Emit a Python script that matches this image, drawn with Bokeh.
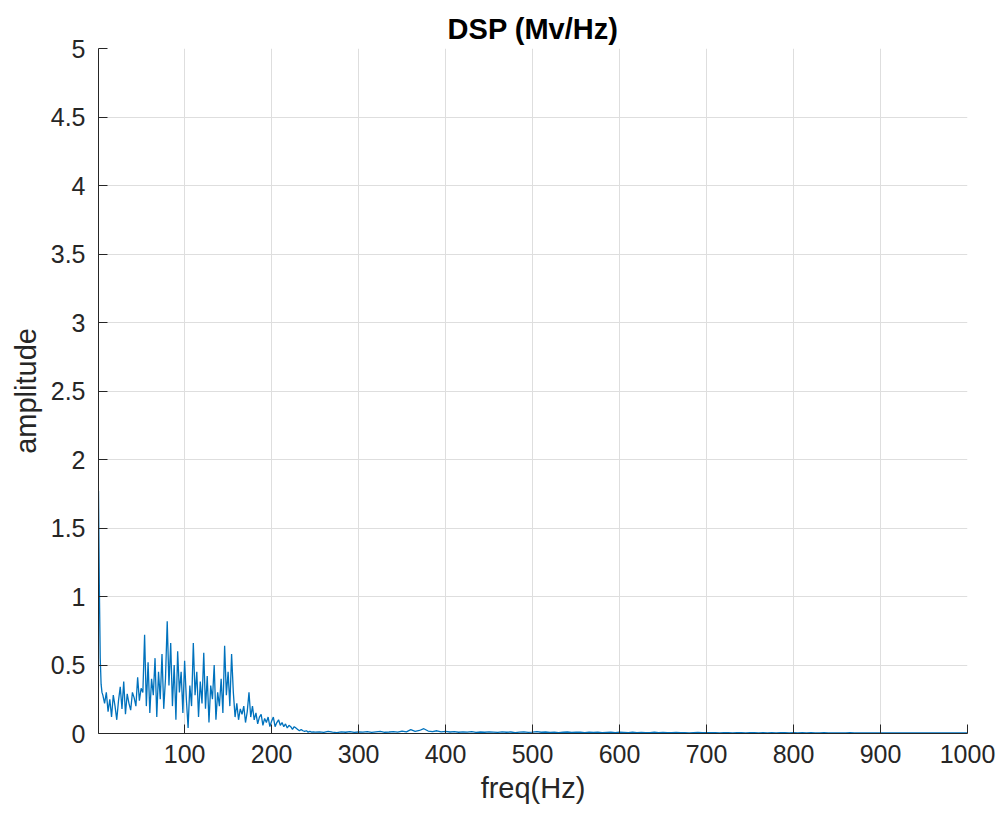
import numpy as np
from bokeh.plotting import figure
from bokeh.models import Range1d, FixedTicker, ColumnDataSource
from bokeh.embed import file_html
from bokeh.resources import INLINE

# ---- data ----
freq_head = [1, 2, 3, 4, 5]
amp_head = [1.77, 1.05, 0.55, 0.36, 0.30]

freq_low = list(range(6, 251, 2))
amp_low = [
    # 6..50
    0.28, 0.22, 0.30, 0.16, 0.25, 0.12, 0.28, 0.20, 0.10, 0.24, 0.34, 0.18,
    0.38, 0.14, 0.29, 0.22, 0.17, 0.30, 0.26, 0.20, 0.41, 0.24, 0.33,
    # 52..100
    0.30, 0.72, 0.20, 0.52, 0.15, 0.40, 0.28, 0.55, 0.12, 0.45, 0.25, 0.58,
    0.18, 0.40, 0.82, 0.35, 0.66, 0.20, 0.50, 0.10, 0.60, 0.30, 0.45, 0.15, 0.53,
    # 102..150
    0.25, 0.04, 0.35, 0.20, 0.66, 0.28, 0.45, 0.12, 0.38, 0.22, 0.59, 0.18,
    0.42, 0.08, 0.35, 0.25, 0.50, 0.10, 0.30, 0.20, 0.40, 0.15, 0.64, 0.28, 0.45,
    # 152..200
    0.20, 0.58, 0.30, 0.12, 0.22, 0.10, 0.18, 0.14, 0.20, 0.08, 0.16, 0.30,
    0.12, 0.20, 0.10, 0.15, 0.07, 0.12, 0.14, 0.06, 0.11, 0.08, 0.12, 0.05, 0.09,
    # 202..250
    0.12, 0.05, 0.08, 0.10, 0.06, 0.08, 0.05, 0.07, 0.04, 0.06, 0.05, 0.03,
    0.05, 0.04, 0.03, 0.02, 0.03, 0.02, 0.015, 0.02, 0.01, 0.015, 0.01, 0.012, 0.01,
]

freq_high = list(range(255, 1001, 5))
amp_high = [
    0.012, 0.008, 0.015, 0.010, 0.006, 0.012, 0.009, 0.014, 0.008, 0.011,
    0.010, 0.013, 0.008, 0.012, 0.015, 0.009, 0.011, 0.014, 0.010, 0.018,
    0.012, 0.028, 0.016, 0.022, 0.035, 0.018, 0.014, 0.020, 0.012, 0.016,
    0.011, 0.014, 0.009, 0.012, 0.010, 0.013, 0.008, 0.011, 0.009, 0.012,
    0.010, 0.008, 0.012, 0.009, 0.011, 0.007, 0.010, 0.012, 0.008, 0.010,
    0.014, 0.009, 0.011, 0.008, 0.010, 0.007, 0.009, 0.011, 0.008, 0.010,
    0.009, 0.007, 0.010, 0.008, 0.009, 0.006, 0.008, 0.010, 0.007, 0.009,
    0.008, 0.006, 0.009, 0.007, 0.008, 0.006, 0.007, 0.009, 0.006, 0.008,
    0.007, 0.006, 0.008, 0.006, 0.007, 0.005, 0.007, 0.008, 0.006, 0.007,
    0.006, 0.007, 0.005, 0.007, 0.006, 0.005, 0.007, 0.006, 0.005, 0.006,
    0.006, 0.005, 0.007, 0.005, 0.006, 0.005, 0.006, 0.007, 0.005, 0.006,
    0.005, 0.006, 0.005, 0.006, 0.005, 0.004, 0.006, 0.005, 0.004, 0.005,
    0.005, 0.004, 0.006, 0.005, 0.004, 0.005, 0.004, 0.005, 0.004, 0.005,
    0.004, 0.005, 0.004, 0.005, 0.004, 0.004, 0.005, 0.004, 0.004, 0.005,
    0.004, 0.004, 0.005, 0.004, 0.004, 0.005, 0.004, 0.004, 0.005, 0.004,
]

freq = freq_head + freq_low + freq_high
amp = amp_head + amp_low + amp_high

x_ticks = [100, 200, 300, 400, 500, 600, 700, 800, 900, 1000]
y_ticks = [0, 0.5, 1, 1.5, 2, 2.5, 3, 3.5, 4, 4.5, 5]

TITLE = "DSP (Mv/Hz)"
X_LABEL = "freq(Hz)"
Y_LABEL = "amplitude"

FONT = "Liberation Sans"
TXT = "#262626"

p = figure(width=1003, height=821, output_backend="svg", toolbar_location=None,
           x_range=Range1d(1, 1000), y_range=Range1d(0, 5),
           min_border_left=98, min_border_right=36, min_border_top=48,
           min_border_bottom=88)
p.title.text = TITLE
p.title.align = "center"
p.title.text_font = FONT
p.title.text_font_size = "29px"
p.title.text_font_style = "bold"
p.title.text_color = "#000000"
p.title.offset = 0
p.title.standoff = 8

p.outline_line_color = None
p.background_fill_color = "white"
p.border_fill_color = "white"

src = ColumnDataSource(dict(x=freq, y=amp))
p.line("x", "y", source=src, line_color="#0072BD", line_width=1.3)

p.xaxis.ticker = FixedTicker(ticks=x_ticks)
p.yaxis.ticker = FixedTicker(ticks=y_ticks)
p.yaxis.major_label_overrides = {0: "0", 1: "1", 2: "2", 3: "3", 4: "4", 5: "5"}

for ax in (p.xaxis[0], p.yaxis[0]):
    ax.axis_line_color = TXT
    ax.axis_line_width = 1
    ax.major_tick_line_color = TXT
    ax.major_tick_in = 9
    ax.major_tick_out = 0
    ax.minor_tick_line_color = None
    ax.major_label_text_font = FONT
    ax.major_label_text_font_size = "25px"
    ax.major_label_text_color = TXT
    ax.axis_label_text_font = FONT
    ax.axis_label_text_font_size = "29px"
    ax.axis_label_text_font_style = "normal"
    ax.axis_label_text_color = TXT

p.xaxis.axis_label = X_LABEL
p.yaxis.axis_label = Y_LABEL
p.xaxis.major_label_standoff = 11
p.yaxis.major_label_standoff = 13
p.xaxis.axis_label_standoff = 6
p.yaxis.axis_label_standoff = 6

p.grid.grid_line_color = "#dedede"
p.grid.grid_line_width = 1

open("out.html", "w").write(file_html(p, INLINE))
